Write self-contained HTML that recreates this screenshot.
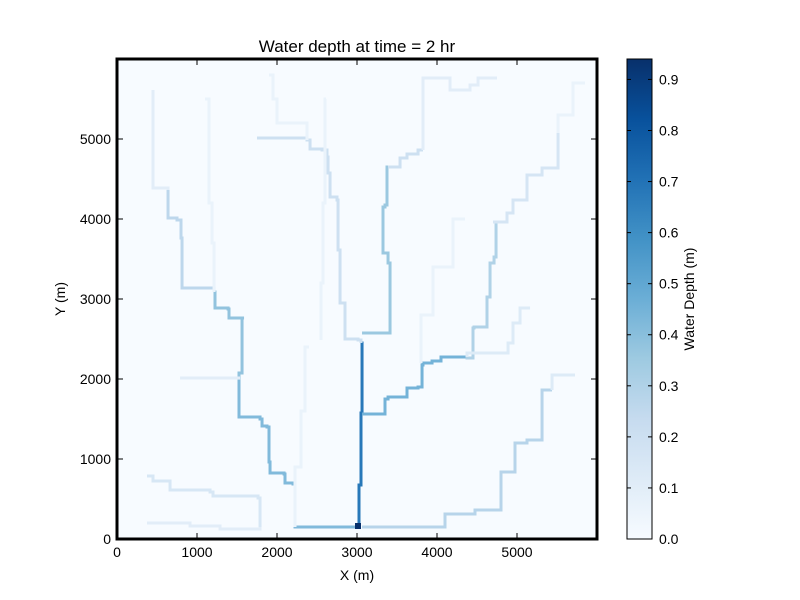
<!DOCTYPE html>
<html><head><meta charset="utf-8"><style>
html,body{margin:0;padding:0;background:#fff;}
svg{display:block;font-family:"Liberation Sans",sans-serif;}
</style></head><body>
<svg id="chart" width="800" height="600" viewBox="0 0 800 600">
<defs>
<linearGradient id="cmap" x1="0" y1="1" x2="0" y2="0">
<stop offset="0" stop-color="#f7fbff"/><stop offset="0.125" stop-color="#deebf7"/><stop offset="0.25" stop-color="#c6dbef"/><stop offset="0.375" stop-color="#9ecae1"/><stop offset="0.5" stop-color="#6baed6"/><stop offset="0.625" stop-color="#4292c6"/><stop offset="0.75" stop-color="#2171b5"/><stop offset="0.875" stop-color="#08519c"/><stop offset="1" stop-color="#08306b"/>
</linearGradient>
<clipPath id="pc"><rect x="117" y="59" width="480" height="480"/></clipPath>
</defs>
<text x="357" y="52" font-size="17" text-anchor="middle">Water depth at time = 2 hr</text>
<rect x="117" y="59" width="480" height="480" fill="#f7fbff"/>
<g id="channels" clip-path="url(#pc)"></g>
<rect x="117" y="59" width="480" height="480" fill="none" stroke="#000" stroke-width="3"/>
<g id="axes"></g>
<text x="357" y="580" font-size="14" text-anchor="middle">X (m)</text>
<text x="65" y="299" font-size="14" text-anchor="middle" transform="rotate(-90 65 299)">Y (m)</text>
<rect x="627" y="59" width="25" height="480" fill="url(#cmap)" stroke="#000" stroke-width="1"/>
<g id="cbar"></g>
<text x="694" y="299" font-size="14" text-anchor="middle" transform="rotate(-90 694 299)">Water Depth (m)</text>
</svg>
<script>
const xTicks=[0,1000,2000,3000,4000,5000];
const yTicks=[0,1000,2000,3000,4000,5000];
const cbTicks=[0,0.1,0.2,0.3,0.4,0.5,0.6,0.7,0.8,0.9];
const vmax=0.94;
const channelNames=["trunk","left-lower","left-mid","left-upper","left-top","right-center","right-center-upper","right-center-top","right-mid","right-mid-upper","right-mid-top","right-side","bottom-right","bottom-right-top","center-left","left-bottom-a","left-bottom-b","left-cross","faint-a","faint-b","faint-c","faint-d","faint-e","faint-f"];
const channelDepths=[0.68,0.42,0.38,0.26,0.1,0.36,0.2,0.1,0.45,0.3,0.16,0.12,0.28,0.12,0.2,0.15,0.1,0.1,0.06,0.06,0.06,0.06,0.06,0.06];
const channelX=[
[3000,3025,3025,3050,3050,3063,3063,3050],
[3000,2225,2200,2100,2088,1913,1900,1875,1813,1788,1525,1525],
[1525,1563,1563,1588,1400,1388,1225,1213],
[1213,813,813,800,750,638,638],
[638,450,450],
[3063,3413,3413,3413,3388,3325,3325,3350,3375,3388],
[3388,3538,3538,3625,3625,3763,3763,3825],
[3825,3825,4163,4163,4413,4513,4625,4750],
[3063,3350,3350,3388,3475,3625,3625,3763,3813,3813,3825,3938,4050,4050,4375],
[4375,4450,4463,4625,4625,4663,4713,4738,4738,4700],
[4700,4875,4950,4950,5125,5125,5313,5513,5513],
[4375,4888,4950,5038,5038,5163],
[3063,4100,4113,4475,4475,4800,4800,4975,4975,5125,5313,5313,5438],
[5438,5725],
[3050,3013,2850,2788,2763,2750,2663,2638,2625,2563,2413,2375,1750],
[1788,1763,1200,1163,663,450,375],
[1788,1288,913,375],
[788,1538],
[1213,1188,1150,1100],
[2550,2575,2600,2613],
[2375,2000,1950,1900],
[3800,3950,4200,4350],
[5513,5700,5850],
[2225,2300,2350,2400]
];
const channelY=[
[150,150,675,675,1575,1575,2388,2450],
[150,150,688,700,813,825,963,1400,1413,1500,1525,1988],
[1988,2075,2488,2763,2763,2875,2888,3088],
[3088,3138,3450,3763,3988,4013,4363],
[4363,4388,5613],
[2575,2575,3113,3400,3450,3575,4025,4150,4175,4650],
[4650,4650,4738,4763,4800,4813,4863,4863],
[4863,5763,5763,5613,5613,5675,5763,5763],
[1563,1563,1675,1750,1775,1775,1863,1888,1900,2025,2175,2200,2225,2275,2275],
[2275,2263,2638,2650,2713,3025,3450,3525,3838,3963],
[3963,3963,4075,4213,4238,4525,4550,4638,5075],
[2275,2325,2450,2700,2863,2888],
[150,150,313,313,363,363,775,838,1113,1200,1238,1775,1863],
[1863,2050],
[2450,2488,2500,2950,3613,4238,4275,4575,4775,4863,4875,4988,5013],
[150,513,538,588,613,725,788],
[150,125,163,200],
[2013,2013],
[3088,3700,4200,5500],
[2488,3200,4200,5500],
[4988,5200,5500,5800],
[2200,2800,3400,4000],
[5075,5300,5700],
[150,900,1600,2400]
];
const outletX=[2975,3050];
const outletY=[125,200];
const outletDepth=0.94;

const NS="http://www.w3.org/2000/svg";
const sx=v=>117+v/6000*480;
const sy=v=>539-v/6000*480;
const cy=v=>539-v/vmax*480;
const stops=[[0,[247,251,255]],[0.125,[222,235,247]],[0.25,[198,219,239]],[0.375,[158,202,225]],[0.5,[107,174,214]],[0.625,[66,146,198]],[0.75,[33,113,181]],[0.875,[8,81,156]],[1,[8,48,107]]];
function color(v){let t=Math.max(0,Math.min(1,v/vmax));for(let i=1;i<stops.length;i++){if(t<=stops[i][0]){const a=stops[i-1],b=stops[i];const f=(t-a[0])/(b[0]-a[0]);const c=a[1].map((x,k)=>Math.round(x+(b[1][k]-x)*f));return `rgb(${c[0]},${c[1]},${c[2]})`;}}return "rgb(8,48,107)";}
const g=document.getElementById('channels');
channelX.forEach((xs,i)=>{
  const p=document.createElementNS(NS,'path');
  let d='M'+sx(xs[0])+' '+sy(channelY[i][0]);
  for(let k=1;k<xs.length;k++){d+=' V'+sy(channelY[i][k])+' H'+sx(xs[k]);}
  p.setAttribute('d',d);
  p.setAttribute('fill','none');
  p.setAttribute('stroke',color(channelDepths[i]));
  p.setAttribute('stroke-width','3');
  p.setAttribute('stroke-linejoin','miter');
  
  
  g.appendChild(p);
});
const o=document.createElementNS(NS,'rect');
o.setAttribute('x',sx(outletX[0]));o.setAttribute('y',sy(outletY[1]));
o.setAttribute('width',sx(outletX[1])-sx(outletX[0]));o.setAttribute('height',sy(outletY[0])-sy(outletY[1]));
o.setAttribute('fill',color(outletDepth));


g.appendChild(o);
const ax=document.getElementById('axes');
function line(x1,y1,x2,y2,par){const l=document.createElementNS(NS,'line');l.setAttribute('x1',x1);l.setAttribute('y1',y1);l.setAttribute('x2',x2);l.setAttribute('y2',y2);l.setAttribute('stroke','#000');l.setAttribute('stroke-width','1');par.appendChild(l);return l;}
function text(x,y,s,anchor,par){const t=document.createElementNS(NS,'text');t.setAttribute('x',x);t.setAttribute('y',y);t.setAttribute('font-size','14');t.setAttribute('text-anchor',anchor);t.textContent=s;par.appendChild(t);return t;}
xTicks.forEach(v=>{
  const l1=line(sx(v),539,sx(v),533,ax);
  
  
  const l2=line(sx(v),59,sx(v),65,ax);
  
  
  const t=text(sx(v),557,String(v),'middle',ax);
  
  
});
yTicks.forEach(v=>{
  const l1=line(117,sy(v),123,sy(v),ax);
  
  
  const l2=line(597,sy(v),591,sy(v),ax);
  
  
  const t=text(111,sy(v)+5,String(v),'end',ax);
  
  
});
const cb=document.getElementById('cbar');
cbTicks.forEach(v=>{
  const l1=line(627,cy(v),631,cy(v),cb);
  
  
  const l2=line(652,cy(v),648,cy(v),cb);
  
  
  const t=text(659,cy(v)+5,v.toFixed(1),'start',cb);
  
  
});
</script>
</body></html>
